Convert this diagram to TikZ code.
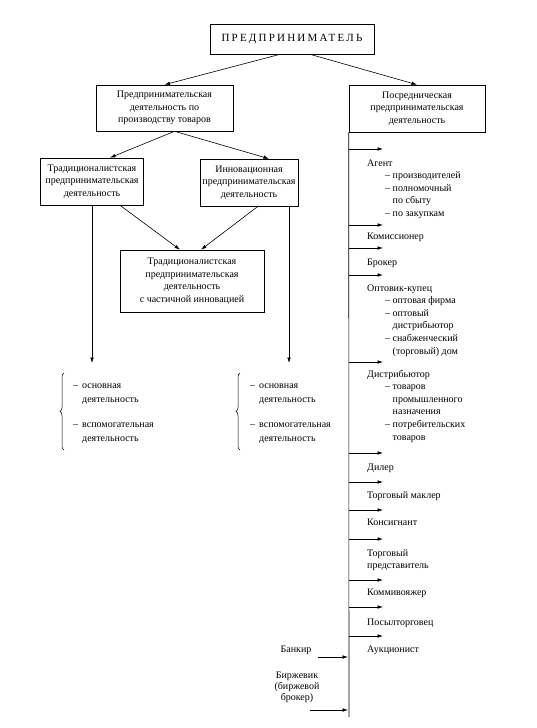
\documentclass[tikz,border=0pt]{standalone}
\usepackage{fontspec}
\setmainfont{Liberation Serif}
\usetikzlibrary{arrows.meta,decorations.pathreplacing}
\begin{document}
\begin{tikzpicture}[x=1pt,y=-1pt,
  every node/.style={font=\fontsize{10}{12.5}\selectfont},
  box/.style={draw,line width=0.6pt,inner sep=0pt,align=center},
  arr/.style={-{Latex[length=5.5pt,width=3.6pt]},line width=0.6pt},
  ln/.style={line width=0.6pt},
  lab/.style={anchor=base west,inner sep=0pt},
  grp/.style={anchor=base west,inner sep=0pt,font=\fontsize{10}{12.6}\selectfont},
  brc/.style={line width=0.5pt,decorate,decoration={brace,amplitude=4pt}},
]
\useasboundingbox (0,0) rectangle (537,728);

% boxes
\node[box,minimum width=164,minimum height=30,font=\fontsize{11}{13}\selectfont] (top) at (292,39)
  {\addfontfeature{LetterSpace=20}ПРЕДПРИНИМАТЕЛЬ};
\node[box,minimum width=137,minimum height=46] (lbox) at (164.5,108)
  {Предпринимательская\\деятельность по\\производству товаров};
\node[box,minimum width=136,minimum height=47] (rbox) at (417,108.5)
  {Посредническая\\предпринимательская\\деятельность};
\node[box,minimum width=103,minimum height=47] (trad) at (92,181.5)
  {Традиционалистская\\предпринимательская\\деятельность};
\node[box,minimum width=98,minimum height=47] (innov) at (249,182.5)
  {Инновационная\\предпринимательская\\деятельность};
\node[box,minimum width=144,minimum height=62] (third) at (192,281)
  {Традиционалистская\\предпринимательская\\деятельность\\с частичной инновацией};

% connectors between boxes
\draw[arr] ([xshift=-12]top.south) -- (lbox.north);
\draw[arr] ([xshift=18]top.south) -- (rbox.north);
\draw[arr] ([xshift=10]lbox.south) -- ([xshift=18]trad.north);
\draw[arr] ([xshift=10]lbox.south) -- ([xshift=20]innov.north);
\draw[arr] ([xshift=28]trad.south) -- ([xshift=-12]third.north);
\draw[arr] ([xshift=9]innov.south) -- ([xshift=9]third.north);

\coordinate (lt) at (92,363);
\coordinate (rt) at (289,363);
\draw[arr] (trad.south) -- (lt);
\draw[arr] ([xshift=40]innov.south) -- (rt);

% lists under the two kinds
\def\lst{\def\arraystretch{1.12}\begin{tabular}[t]{@{}l@{\hspace{4pt}}l@{}}–&основная\\&деятельность\\[11pt]–&вспомогательная\\&деятельность\end{tabular}}
\node[lab] (llist) at (73,388) {\lst};
\node[lab] (rlist) at (250,388) {\lst};
\draw[brc] (64,450) -- (64,373);
\draw[brc] (240,450) -- (240,373);

% spine
\coordinate (spineend) at (349,717);
\draw[ln] (rbox.south west) -- (spineend);
\foreach \y [count=\i] in {149,225,248,275,362,453,482,510,539,580,607,636}{
  \coordinate (s\i) at (349,\y);
  \coordinate (t\i) at (383,\y);
  \draw[arr] (s\i) -- (t\i);
}

\node[grp] (agent) at (367,166) {\begin{tabular}[t]{@{}l@{}}Агент\\
  \hspace*{18pt}– производителей\\
  \hspace*{18pt}– полномочный\\
  \hspace*{18pt}\phantom{– }по сбыту\\
  \hspace*{18pt}– по закупкам\end{tabular}};
\node[lab] (kom) at (367,239) {Комиссионер};
\node[lab] (brok) at (367,265) {Брокер};
\node[grp] (opt) at (367,291) {\begin{tabular}[t]{@{}l@{}}Оптовик-купец\\
  \hspace*{18pt}– оптовая фирма\\
  \hspace*{18pt}– оптовый\\
  \hspace*{18pt}\phantom{– }дистрибьютор\\
  \hspace*{18pt}– снабженческий\\
  \hspace*{18pt}\phantom{– }(торговый) дом\end{tabular}};
\node[grp] (distr) at (367,377) {\begin{tabular}[t]{@{}l@{}}Дистрибьютор\\
  \hspace*{18pt}– товаров\\
  \hspace*{18pt}\phantom{– }промышленного\\
  \hspace*{18pt}\phantom{– }назначения\\
  \hspace*{18pt}– потребительских\\
  \hspace*{18pt}\phantom{– }товаров\end{tabular}};
\node[lab] (dil) at (367,470) {Дилер};
\node[lab] (makl) at (367,498) {Торговый маклер};
\node[lab] (kons) at (367,525) {Консигнант};
\node[grp] (pred) at (367,556) {\begin{tabular}[t]{@{}l@{}}Торговый\\представитель\end{tabular}};
\node[lab] (komm) at (367,595) {Коммивояжер};
\node[lab] (posyl) at (367,625) {Посылторговец};
\node[lab] (auk) at (367,652) {Аукционист};

% left-side inputs
\node[anchor=base,inner sep=0pt] (bank) at (296,652) {Банкир};
\node[anchor=base,inner sep=0pt,font=\fontsize{10}{11.3}\selectfont] (birzh) at (297,678)
  {\begin{tabular}[t]{@{}c@{}}Биржевик\\(биржевой\\брокер)\end{tabular}};
\coordinate (b1) at (318,657);
\coordinate (b1e) at (348,657);
\coordinate (b2) at (310,710);
\coordinate (b2e) at (348,710);
\draw[arr] (b1) -- (b1e);
\draw[arr] (b2) -- (b2e);
\end{tikzpicture}
\end{document}
